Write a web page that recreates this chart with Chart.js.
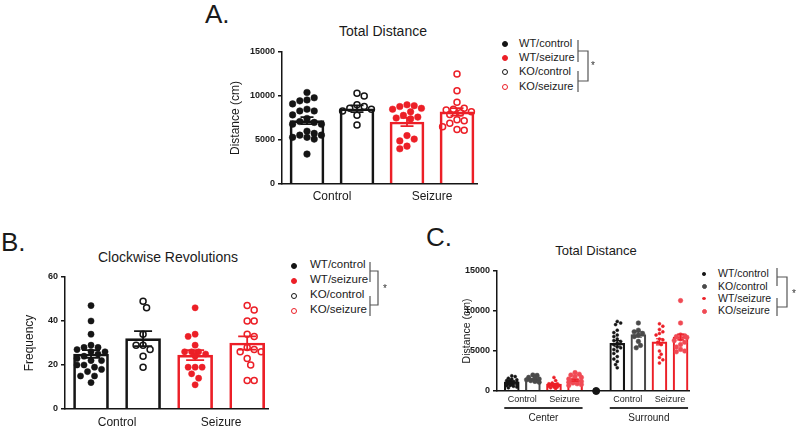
<!DOCTYPE html>
<html>
<head>
<meta charset="utf-8">
<script src="https://cdn.jsdelivr.net/npm/chart.js@4.4.1/dist/chart.umd.min.js"></script>
<style>
html,body{margin:0;padding:0;background:#fff;}
body{width:800px;height:431px;position:relative;overflow:hidden;font-family:"Liberation Sans",Arial,sans-serif;color:#1a1a1a;}
canvas{position:absolute;}
.t{position:absolute;line-height:1;white-space:nowrap;}
.ttl{transform:translateX(-50%);}
.dot{position:absolute;border-radius:50%;box-sizing:border-box;}
</style>
</head>
<body>
<div class="t" style="left:205px;top:1px;font-size:26px">A.</div>
<div class="t" style="left:1px;top:229px;font-size:26px">B.</div>
<div class="t" style="left:426px;top:224px;font-size:26px">C.</div>

<div class="t ttl" style="left:383px;top:24px;font-size:14px">Total Distance</div>
<div class="t ttl" style="left:168px;top:250px;font-size:14px">Clockwise Revolutions</div>
<div class="t ttl" style="left:596px;top:244px;font-size:13px">Total Distance</div>

<canvas id="chartA" width="300" height="215" style="left:190px;top:0px"></canvas>
<canvas id="chartB" width="290" height="211" style="left:0px;top:220px"></canvas>
<canvas id="chartC" width="300" height="211" style="left:400px;top:220px"></canvas>

<div id="legends"></div>

<svg width="800" height="431" style="position:absolute;left:0;top:0;pointer-events:none">
  <g fill="none" stroke="#555" stroke-width="1.2">
    <path d="M578 40 V62 M578 51 H588 V81 H578 M578 71 V92"/>
    <path d="M370 262 V282 M370 271 H378 V305 H370 M370 296 V316"/>
    <path d="M777 268 V286 M777 277 H787 V307 H777 M777 298 V316"/>
  </g>
  <g font-family="Liberation Sans, Arial, sans-serif" font-size="10" fill="#333">
    <text x="591" y="69">*</text>
    <text x="383" y="292">*</text>
    <text x="792" y="297">*</text>
  </g>
</svg>

<script>
// ---- colours
const BLACK = '#151515', RED = '#ec1f27', GREY = '#4a4a4a', PINK = '#f04a54';

// ---- Panel A: Total Distance (cm)
const xLabelsA = ['Control', 'Seizure'];
const barsA = [7200, 8550, 7050, 8200];
const semA = [400, 380, 480, 430];
const wtCtrlA = [10400, 9800, 9550, 9450, 9100, 8500, 8300, 8300, 7850, 7450, 7100, 7000, 6800, 6800, 6000, 5750, 5550, 5550, 5300, 5300, 5100, 3400];
const koCtrlA = [10300, 10000, 9000, 8800, 8600, 8500, 8300, 7800, 6700];
const wtSeizA = [9000, 8900, 8800, 8600, 8500, 8200, 7800, 7600, 7500, 7400, 5500, 5100, 4900, 4300, 4000];
const koSeizA = [12500, 10600, 9300, 8600, 8500, 8400, 8200, 8100, 7900, 7300, 7200, 6900, 6500, 6200, 6100];

// ---- Panel B: Clockwise Revolutions (frequency)
const xLabelsB = ['Control', 'Seizure'];
const barsB = [25, 32, 24.5, 30];
const semB = [1.8, 3.4, 2.3, 3.0];
const wtCtrlB = [47, 40, 34, 29, 28, 28, 27, 26, 26, 25, 24, 23, 22, 22, 20, 20, 19, 18, 17, 15, 15, 12];
const koCtrlB = [49, 46, 34, 29, 29, 27, 24, 19];
const wtSeizB = [46, 34, 33, 29, 26, 26, 26, 25, 24, 19, 19, 19, 16, 14, 11];
const koSeizB = [47, 45, 40, 40, 34, 33, 28, 27, 26, 26, 23, 20, 13, 13];

// ---- Panel C: Total Distance by zone (cm)
const zonesC = ['Center', 'Surround'];
const xLabelsC = ['Control', 'Seizure', 'Control', 'Seizure'];
const barsC = [1150, 1450, 850, 1350, 5950, 7050, 6150, 6750];
const semC = [100, 110, 90, 120, 350, 330, 380, 350];
const wtCtrlCenterC = [1900, 1800, 1600, 1500, 1400, 1300, 1300, 1200, 1200, 1100, 1100, 1000, 1000, 900, 900, 800, 800, 700, 700, 600, 500, 400];
const koCtrlCenterC = [2000, 1950, 1700, 1600, 1500, 1400, 1300, 1200, 1100];
const wtSeizCenterC = [1700, 1300, 1000, 900, 900, 800, 800, 700, 700, 600, 600, 500, 500, 400, 300];
const koSeizCenterC = [2300, 2100, 2000, 1800, 1700, 1500, 1400, 1300, 1200, 1100, 1000, 900, 800, 700];
const wtCtrlSurrC = [8700, 8500, 8300, 7600, 7300, 7000, 6800, 6500, 6300, 6200, 6000, 5800, 5500, 5400, 5200, 5000, 4700, 4300, 4000, 3700, 3300, 2900];
const koCtrlSurrC = [8500, 7600, 7400, 7200, 7000, 6800, 6200, 5700, 5400];
const wtSeizSurrC = [8400, 8100, 7700, 7400, 7200, 7000, 6500, 6400, 6100, 5800, 5000, 4600, 4200, 3900, 3500];
const koSeizSurrC = [11300, 8500, 7000, 6900, 6800, 6700, 6500, 6300, 6100, 5800, 5500, 5200, 5000, 4900];
const gapMarkerC = [0];

Chart.defaults.font.family = '"Liberation Sans", Arial, sans-serif';
Chart.defaults.color = '#1a1a1a';

// Prism-like scatter: spread tied values sideways so dots don't overlap
function swarm(values, pos, pxX, pxY, diam, maxHalf){
  const placed = [], out = [];
  const order = values.map((_, i) => i).sort((a, b) => values[b] - values[a]);
  const step = diam / 2;
  order.forEach((i, n) => {
    const py = values[i] * pxY;
    const sgn = n % 2 ? 1 : -1;
    let best = 0, bestGap = -1;
    for (let k = 0; ; k++){
      const off = (k % 2 ? sgn : -sgn) * Math.ceil(k / 2) * step;
      if (Math.abs(off) > maxHalf) break;
      let gap = Infinity;
      placed.forEach(p => { gap = Math.min(gap, Math.hypot(p[0] - off, p[1] - py)); });
      if (gap >= diam){ best = off; break; }
      if (gap > bestGap){ bestGap = gap; best = off; }
    }
    placed.push([best, py]);
    out[i] = {x: pos + best / pxX, y: values[i]};
  });
  return out;
}

const errorBars = {
  id: 'errorBars',
  afterDatasetsDraw(chart, args, o){
    const {ctx, scales: {x, y}} = chart;
    ctx.save();
    ctx.lineWidth = o.width;
    o.means.forEach((m, i) => {
      const px = x.getPixelForValue(o.pos[i]);
      const top = y.getPixelForValue(m + o.sem[i]), bot = y.getPixelForValue(m - o.sem[i]);
      ctx.strokeStyle = o.colors[i];
      ctx.beginPath();
      ctx.moveTo(px, top); ctx.lineTo(px, bot);
      ctx.moveTo(px - o.cap, top); ctx.lineTo(px + o.cap, top);
      ctx.moveTo(px - o.cap, bot); ctx.lineTo(px + o.cap, bot);
      ctx.stroke();
    });
    ctx.restore();
  }
};

const groupLabels = {
  id: 'groupLabels',
  afterDraw(chart, args, o){
    if (!o.names) return;
    const {ctx, chartArea, scales: {x}} = chart;
    ctx.save();
    o.names.forEach((name, i) => {
      const x1 = x.getPixelForValue(o.spans[i][0]) - o.half;
      const x2 = x.getPixelForValue(o.spans[i][1]) + o.half;
      ctx.strokeStyle = '#333'; ctx.lineWidth = 2;
      ctx.beginPath(); ctx.moveTo(x1, chartArea.bottom + 17); ctx.lineTo(x2, chartArea.bottom + 17); ctx.stroke();
      ctx.fillStyle = '#222'; ctx.font = '10px "Liberation Sans", Arial';
      ctx.textAlign = 'center'; ctx.textBaseline = 'middle';
      ctx.fillText(name, (x1 + x2) / 2, chartArea.bottom + 27);
    });
    ctx.restore();
  }
};

function buildPanel(id, p){
  const cv = document.getElementById(id);
  const plotW = cv.width - p.pad.left - p.yW - p.pad.right;
  const plotH = cv.height - p.pad.top - p.pad.bottom - p.xH;
  const pxX = plotW / (p.xMax - p.xMin), pxY = plotH / p.yMax;

  const datasets = [{
    type: 'bar', order: 3, clip: false,
    data: p.bars.map((v, i) => ({x: p.pos[i], y: v})),
    borderColor: p.barColors, backgroundColor: 'rgba(0,0,0,0)',
    borderWidth: p.barLine, barThickness: p.barW
  }];
  p.points.forEach((g, i) => {
    datasets.push({
      type: 'scatter', order: 1, clip: false,
      data: swarm(g.values, p.pos[i], pxX, pxY, g.diam, p.spread),
      pointRadius: g.r, pointBackgroundColor: g.fill, pointBorderColor: g.color, pointBorderWidth: g.bw
    });
  });
  (p.extra || []).forEach(d => datasets.push(d));

  return new Chart(cv, {
    type: 'bar',
    data: {datasets},
    options: {
      responsive: false, animation: false, events: [],
      layout: {padding: p.pad},
      plugins: {
        legend: {display: false}, tooltip: {enabled: false},
        errorBars: {means: p.bars, sem: p.sem, pos: p.pos, colors: p.barColors, cap: p.cap, width: p.errW},
        groupLabels: p.groups || {}
      },
      scales: {
        x: {
          type: 'linear', min: p.xMin, max: p.xMax, offset: false,
          grid: {display: false, drawTicks: false},
          border: {display: true, color: BLACK, width: p.axisW},
          afterBuildTicks: s => { s.ticks = p.tickPos.map(v => ({value: v})); },
          afterFit: s => { s.height = p.xH; },
          ticks: {callback: (v, i) => p.tickLabels[i], font: {size: p.xFont}, color: '#1a1a1a', padding: p.xPad, maxRotation: 0, autoSkip: false}
        },
        y: {
          min: 0, max: p.yMax,
          grid: {drawOnChartArea: false, drawTicks: true, tickLength: 4, color: BLACK, lineWidth: p.axisW},
          border: {display: true, color: BLACK, width: p.axisW},
          afterFit: s => { s.width = p.yW; },
          ticks: {stepSize: p.yStep, callback: v => String(v), font: {size: 9, weight: 'bold'}, color: '#1a1a1a', padding: 3},
          title: {display: true, text: p.yTitle, font: {size: p.yTitleSize}, color: '#1a1a1a', padding: {top: 4, bottom: 4}}
        }
      }
    },
    plugins: [errorBars, groupLabels]
  });
}

const filled = (c, r, diam) => ({color: c, fill: c, r, bw: 0.5, diam});
const open = (c, r, diam) => ({color: c, fill: 'rgba(255,255,255,0)', r, bw: 1.5, diam});

buildPanel('chartA', {
  pad: {left: 34, top: 52, right: 13, bottom: 6}, yW: 58, xH: 25,
  xMin: -0.5, xMax: 3.4, yMax: 15000, yStep: 5000, yTitle: 'Distance (cm)', yTitleSize: 12,
  pos: [0, 1, 2, 3], bars: barsA, sem: semA, barColors: [BLACK, BLACK, RED, RED],
  barW: 34, barLine: 2, cap: 6.5, errW: 1.8, axisW: 1.5, spread: 15,
  tickPos: [0.5, 2.5], tickLabels: xLabelsA, xFont: 12, xPad: 5,
  points: [filled(BLACK, 3.3, 7.2), open(BLACK, 3, 7.2), filled(RED, 3.3, 7.2), open(RED, 3, 7.2)]
    .map((g, i) => Object.assign(g, {values: [wtCtrlA, koCtrlA, wtSeizA, koSeizA][i]}))
});

buildPanel('chartB', {
  pad: {left: 18, top: 57, right: 22, bottom: 4}, yW: 47, xH: 18,
  xMin: -0.5, xMax: 3.4, yMax: 60, yStep: 20, yTitle: 'Frequency', yTitleSize: 12,
  pos: [0, 1, 2, 3], bars: barsB, sem: semB, barColors: [BLACK, BLACK, RED, RED],
  barW: 35, barLine: 2, cap: 9, errW: 1.8, axisW: 1.5, spread: 15,
  tickPos: [0.5, 2.5], tickLabels: xLabelsB, xFont: 12, xPad: 6,
  points: [filled(BLACK, 3.1, 7), open(BLACK, 3, 7), filled(RED, 3.1, 7), open(RED, 3, 7)]
    .map((g, i) => Object.assign(g, {values: [wtCtrlB, koCtrlB, wtSeizB, koSeizB][i]}))
});

const styleC = [filled(BLACK, 1.5, 3.4), filled(GREY, 2.3, 4.2), filled(RED, 1.5, 3.4), filled(PINK, 2.3, 4.2)];
buildPanel('chartC', {
  pad: {left: 57, top: 51, right: 11, bottom: 22}, yW: 40, xH: 18,
  xMin: -0.7, xMax: 8.4, yMax: 15000, yStep: 5000, yTitle: 'Distance (cm)', yTitleSize: 10.5,
  pos: [0, 1, 2, 3, 5, 6, 7, 8], bars: barsC, sem: semC,
  barColors: [BLACK, GREY, RED, RED, BLACK, GREY, RED, RED],
  barW: 15, barLine: 1.5, cap: 3.5, errW: 1.2, axisW: 1.5, spread: 6.5,
  tickPos: [0.5, 2.5, 5.5, 7.5], tickLabels: xLabelsC, xFont: 9, xPad: 3,
  groups: {names: zonesC, spans: [[0, 3], [5, 8]], half: 7.5},
  points: [wtCtrlCenterC, koCtrlCenterC, wtSeizCenterC, koSeizCenterC, wtCtrlSurrC, koCtrlSurrC, wtSeizSurrC, koSeizSurrC]
    .map((v, i) => Object.assign({}, styleC[i % 4], {values: v})),
  extra: [{type: 'scatter', order: 0, clip: false, data: gapMarkerC.map(v => ({x: 4, y: v})),
           pointRadius: 3.5, pointBackgroundColor: BLACK, pointBorderColor: BLACK}]
});

// ---- HTML legends
const legendNamesA = ['WT/control', 'WT/seizure', 'KO/control', 'KO/seizure'];
const legendNamesC = ['WT/control', 'KO/control', 'WT/seizure', 'KO/seizure'];
const legends = [
  {x: 505, tx: 519, y: 44, rowH: 14.2, font: 11, names: legendNamesA,
   marks: [filled(BLACK, 3, 0), filled(RED, 3, 0), open(BLACK, 3, 0), open(RED, 3, 0)]},
  {x: 294, tx: 310, y: 265.7, rowH: 15, font: 11.5, names: legendNamesA,
   marks: [filled(BLACK, 3, 0), filled(RED, 3, 0), open(BLACK, 3, 0), open(RED, 3, 0)]},
  {x: 704, tx: 718, y: 274, rowH: 12.4, font: 10.5, names: legendNamesC,
   marks: [filled(BLACK, 1.7, 0), filled(GREY, 2.5, 0), filled(RED, 1.7, 0), filled(PINK, 2.5, 0)]}
];
const host = document.getElementById('legends');
legends.forEach(lg => {
  lg.names.forEach((name, i) => {
    const cy = lg.y + i * lg.rowH, m = lg.marks[i];
    const dot = document.createElement('div');
    dot.className = 'dot';
    Object.assign(dot.style, {
      left: (lg.x - m.r) + 'px', top: (cy - m.r) + 'px', width: 2 * m.r + 'px', height: 2 * m.r + 'px',
      background: m.fill, border: m.bw + 'px solid ' + m.color
    });
    host.appendChild(dot);
    const t = document.createElement('div');
    t.className = 't';
    t.textContent = name;
    Object.assign(t.style, {left: lg.tx + 'px', top: (cy - 0.55 * lg.font) + 'px', fontSize: lg.font + 'px'});
    host.appendChild(t);
  });
});
</script>
</body>
</html>
